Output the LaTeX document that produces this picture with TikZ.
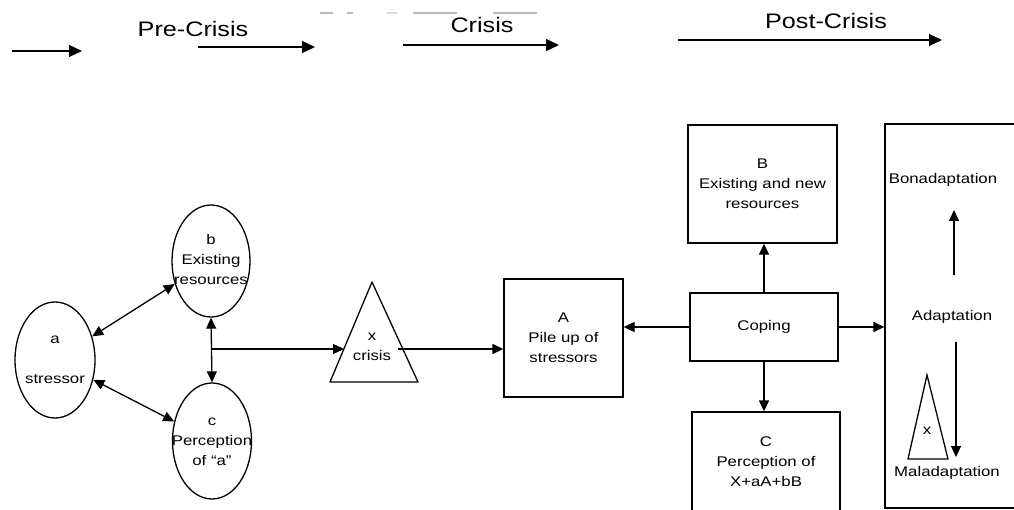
\documentclass[tikz,border=0pt]{standalone}
\usepackage{fontspec}
\setmainfont{Liberation Sans}[FakeStretch=1.2]
\usetikzlibrary{arrows.meta,shapes.geometric}
\begin{document}
\begin{tikzpicture}[x=1pt,y=-1pt,
  line width=1.3pt,
  tip/.style={-{Triangle[length=11pt,width=10pt]}},
  dtip/.style={{Triangle[length=11pt,width=10pt]}-{Triangle[length=11pt,width=10pt]}},
  htip/.style={line width=1.2pt,-{Triangle[length=13pt,width=12pt]}},
  txt/.style={font=\fontsize{14}{20}\selectfont, align=center, inner sep=0pt},
  head/.style={font=\fontsize{21}{24}\selectfont, inner sep=0pt},
  ell/.style={draw, ellipse, inner sep=0pt},
  box/.style={draw, rectangle, inner sep=0pt, font=\fontsize{14}{20}\selectfont, align=center},
  noise/.style={draw=gray!55, line width=1.2pt}]
\useasboundingbox (0,0) rectangle (1014,510);
\clip (0,0) rectangle (1014,510);

% header
\node[head] (pre) at (193,29) {Pre-Crisis};
\node[head] (cri) at (482,25) {Crisis};
\node[head] (post) at (826,21) {Post-Crisis};
\coordinate (h1s) at (12,51);  \coordinate (h1e) at (82,51);
\coordinate (h2s) at (198,47); \coordinate (h2e) at (315,47);
\coordinate (h3s) at (403,45); \coordinate (h3e) at (559,45);
\coordinate (h4s) at (678,40); \coordinate (h4e) at (942,40);
\draw[htip] (h1s) -- (h1e);
\draw[htip] (h2s) -- (h2e);
\draw[htip] (h3s) -- (h3e);
\draw[htip] (h4s) -- (h4e);
% scan noise at top
\draw[noise] (320,13) -- (333,13);
\draw[noise] (347,13) -- (353,13);
\draw[noise, draw=gray!30] (387,13) -- (397,13);
\draw[noise] (413,13) -- (457,13);
\draw[noise] (493,13) -- (537,13);

% ellipses
\node[ell, minimum width=80pt, minimum height=116pt] (a) at (55,360) {};
\node[txt] (at) at (a) {a\\[20pt]stressor};
\node[ell, minimum width=78pt, minimum height=112pt] (b) at (211,261) {};
\node[txt] (bt) at (211,259) {b\\Existing\\resources};
\node[ell, minimum width=79pt, minimum height=116pt] (c) at (212,441) {};
\node[txt] (ct) at (212,442) {c\\Perception\\of ``a''};

\draw[dtip] (a) -- (b);
\draw[dtip] (a) -- (c);
\draw[dtip] (b.south) -- (c.north);

% crisis triangle
\coordinate (t1) at (330,382);
\coordinate (t2) at (372,282);
\coordinate (t3) at (418,382);
\draw[line join=round] (t1) -- (t2) -- (t3) -- cycle;
\node[txt] (xt) at (372,347) {x\\crisis};
\coordinate (jn) at (211,349);
\coordinate (tin) at (344,349);
\coordinate (tout) at (398,349);
\draw[tip] (jn) -- (tin);

% boxes
\node[box, minimum width=119pt, minimum height=118pt] (A) at (563.5,338) {A\\Pile up of\\stressors};
\node[box, minimum width=149pt, minimum height=118pt] (B) at (762.5,184) {B\\Existing and new\\resources};
\node[box, minimum width=148pt, minimum height=68pt] (cop) at (764,327) {Coping};
\node[box, minimum width=148pt, minimum height=100pt] (C) at (766,462) {C\\Perception of\\X+aA+bB};
\node[draw, rectangle, inner sep=0pt, minimum width=150pt, minimum height=384pt] (big) at (960,316) {};

\draw[tip] (tout) -- (tout -| A.west);
\draw[tip] (cop.west) -- (cop.west -| A.east);
\draw[tip] (cop.north) -- (cop.north |- B.south);
\draw[tip] (cop.south) -- (cop.south |- C.north);
\draw[tip] (cop.east) -- (cop.east -| big.west);

% adaptation box contents
\node[txt] (bona) at (943,180) {Bonadaptation};
\node[txt] (adap) at (952,317) {Adaptation};
\node[txt] (mal) at (947,473) {Maladaptation};
\coordinate (u1) at (954,275); \coordinate (u2) at (954,210);
\coordinate (d1) at (956,342); \coordinate (d2) at (956,457);
\draw[tip] (u1) -- (u2);
\draw[tip] (d1) -- (d2);
\coordinate (s1) at (908,459);
\coordinate (s2) at (927,375);
\coordinate (s3) at (948,459);
\draw (s1) -- (s2) -- (s3) -- cycle;
\node[txt] (sx) at (927,431) {x};
\end{tikzpicture}
\end{document}
